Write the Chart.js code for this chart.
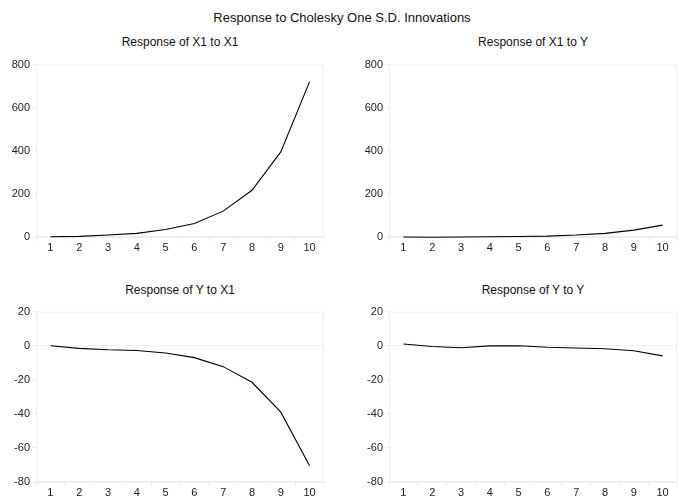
<!DOCTYPE html>
<html>
<head>
<meta charset="utf-8">
<script src="https://cdn.jsdelivr.net/npm/chart.js@4/dist/chart.umd.min.js"></script>
<style>
  body { margin: 0; width: 684px; height: 500px; overflow: hidden; background: #fff; font-family: "Liberation Sans", Arial, sans-serif; color: #111; }
  .ttl { position: absolute; white-space: nowrap; transform: translate(-50%, -50%); }
  canvas { position: absolute; }
</style>
</head>
<body>
<div class="ttl" style="left:342px; top:17px; font-size:13px;">Response to Cholesky One S.D. Innovations</div>
<div class="ttl" style="left:180px; top:42px; font-size:12px;">Response of X1 to X1</div>
<div class="ttl" style="left:533px; top:42px; font-size:12px;">Response of X1 to Y</div>
<div class="ttl" style="left:180px; top:290px; font-size:12px;">Response of Y to X1</div>
<div class="ttl" style="left:533px; top:290px; font-size:12px;">Response of Y to Y</div>

<canvas id="c11" style="left:0; top:56px; width:330px; height:199px;" width="330" height="199"></canvas>
<canvas id="c12" style="left:342px; top:56px; width:342px; height:199px;" width="342" height="199"></canvas>
<canvas id="c21" style="left:0; top:303px; width:330px; height:197px;" width="330" height="197"></canvas>
<canvas id="c22" style="left:342px; top:303px; width:342px; height:197px;" width="342" height="197"></canvas>

<script>
// periods
const periods = ['1', '2', '3', '4', '5', '6', '7', '8', '9', '10'];

// impulse responses
const x1ToX1 = [1, 3, 9, 17, 35, 63, 120, 217, 395, 721];
const x1ToY = [0, -1, 0, 1, 2, 4, 9, 17, 32, 55];
const yToX1 = [0, -1.6, -2.4, -2.8, -4.3, -7, -12.3, -21.5, -39, -70.5];
const yToY = [1, -0.5, -1.2, -0.1, 0, -0.9, -1.4, -1.8, -3, -6];

const faint = '#eeeeee';

// thin frame round the plot area
const framePlugin = {
  id: 'frame',
  beforeDatasetsDraw(chart) {
    const a = chart.chartArea, ctx = chart.ctx;
    ctx.save();
    ctx.strokeStyle = faint;
    ctx.lineWidth = 1;
    ctx.strokeRect(a.left + 0.5, a.top + 0.5, a.right - a.left - 1, a.bottom - a.top - 1);
    ctx.restore();
  }
};

function makeChart(id, values, yMin, yMax, step, yWidth, padRight) {
  return new Chart(document.getElementById(id), {
    type: 'line',
    data: {
      labels: periods,
      datasets: [{ data: values, borderColor: '#000', borderWidth: 1.1, pointRadius: 0, tension: 0, fill: false, clip: false }]
    },
    options: {
      responsive: false,
      animation: false,
      layout: { padding: { top: 6, right: padRight, left: 0, bottom: 0 } },
      plugins: { legend: { display: false }, tooltip: { enabled: false } },
      scales: {
        x: {
          offset: true,
          afterFit: s => { s.height = 18; },
          grid: { offset: true, drawOnChartArea: false, color: faint, tickLength: 4 },
          border: { color: faint },
          ticks: { color: '#222', padding: 0, maxRotation: 0, font: { family: 'Liberation Sans', size: 11 } }
        },
        y: {
          min: yMin,
          max: yMax,
          afterFit: s => { s.width = yWidth; },
          grid: { color: c => (c.tick && c.tick.value === 0 ? faint : 'transparent'), tickColor: faint, tickLength: 4 },
          border: { color: faint },
          ticks: { stepSize: step, color: '#222', padding: 2, font: { family: 'Liberation Sans', size: 11 } }
        }
      }
    },
    plugins: [framePlugin]
  });
}

makeChart('c11', x1ToX1, 0, 800, 200, 36, 6);
makeChart('c12', x1ToY, 0, 800, 200, 47, 7);
makeChart('c21', yToX1, -80, 20, 20, 36, 6);
makeChart('c22', yToY, -80, 20, 20, 47, 7);
</script>
</body>
</html>
